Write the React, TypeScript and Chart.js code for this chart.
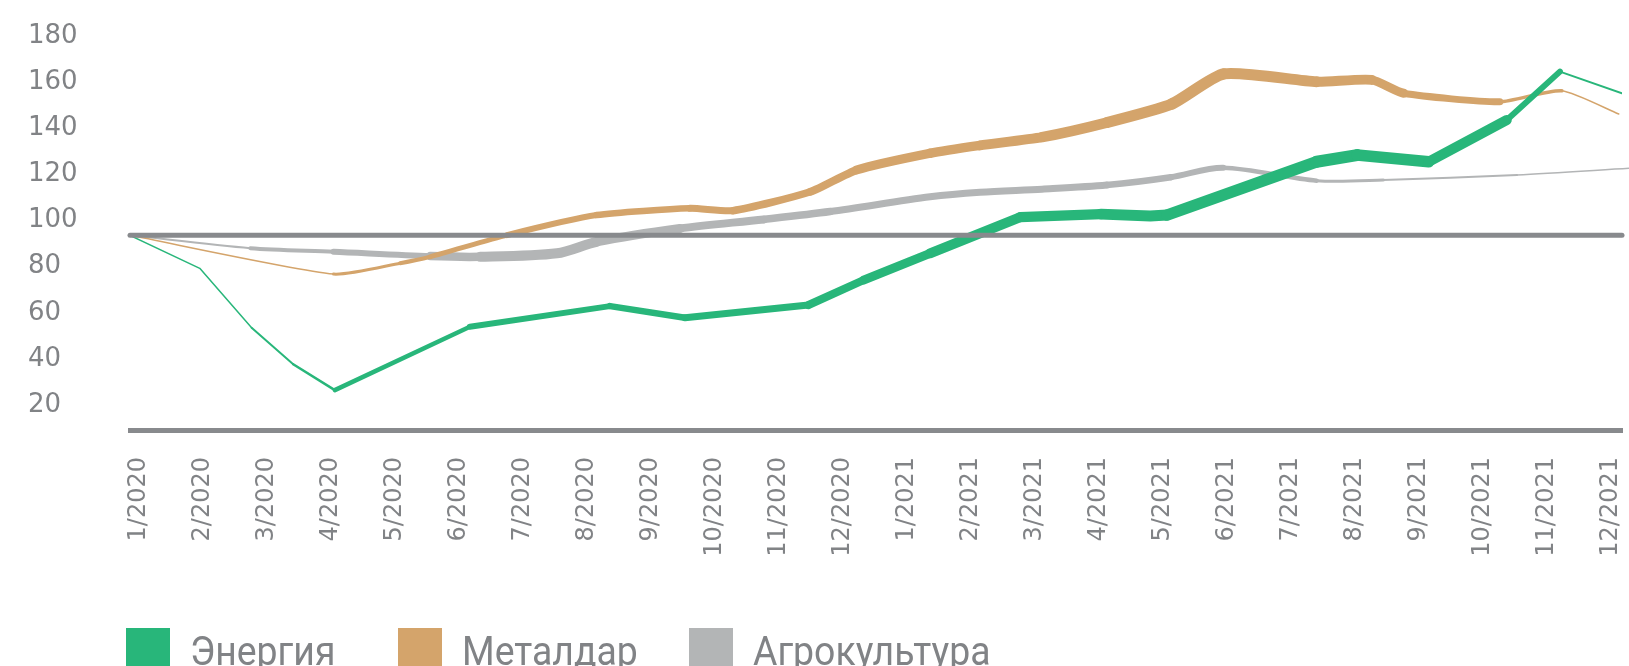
import React, { useEffect, useRef } from 'react';
import { Chart, registerables } from 'chart.js';

Chart.register(...registerables);

// ---- data ----
const xLabels = [
  '1/2020', '2/2020', '3/2020', '4/2020', '5/2020', '6/2020', '7/2020', '8/2020', '9/2020', '10/2020', '11/2020', '12/2020',
  '1/2021', '2/2021', '3/2021', '4/2021', '5/2021', '6/2021', '7/2021', '8/2021', '9/2021', '10/2021', '11/2021', '12/2021',
];
const yTicks = [20, 40, 60, 80, 100, 120, 140, 160, 180];

const baseX = [-0.13, 23.18];
const baseY = [92.7, 92.7];

const energyX = [-0.13, 0.96, 1.77, 2.42, 3.07, 5.18, 7.37, 8.54, 10.47, 11.33, 12.37, 13.78, 15.04, 15.81, 16.07, 18.41, 19.04, 20.16, 21.38, 22.21, 23.18];
const energyY = [92.7, 78.4, 52.6, 36.8, 25.6, 53.1, 62.0, 57.0, 62.5, 73.3, 84.9, 100.6, 101.9, 101.1, 101.5, 124.6, 127.5, 124.6, 142.7, 163.7, 154.3];
const energyW = [1.5, 1.5, 2, 2.5, 4.5, 6, 6.5, 7, 8, 9, 10, 10.5, 11, 11, 11.5, 12, 11.5, 10, 6, 2];

const metalsX = [-0.13, 3.05, 4.09, 4.56, 5.76, 7.16, 8.62, 9.29, 10.5, 11.22, 12.37, 13.15, 14.12, 15.13, 16.15, 16.96, 18.41, 19.27, 19.77, 21.27, 22.24, 23.13];
const metalsY = [92.7, 75.9, 80.6, 83.4, 92.8, 101.5, 104.4, 103.4, 111.6, 121.0, 128.3, 131.7, 135.3, 141.6, 149.7, 162.7, 159.3, 160.1, 154.3, 150.6, 155.4, 145.3];
const metalsW = [1.5, 3, 4, 5, 6, 6.5, 7, 7.5, 8, 9, 9.5, 10, 10.5, 11, 11.5, 11, 10, 9, 7, 3.5, 1.5];

const agroX = [-0.13, 1.75, 3.05, 4.56, 5.34, 6.54, 7.16, 8.46, 9.77, 10.81, 12.37, 13.15, 14.12, 15.13, 16.13, 16.95, 18.41, 19.45, 21.54, 23.29];
const agroY = [92.7, 87.1, 85.6, 83.7, 83.4, 84.9, 89.9, 95.7, 99.6, 103.0, 109.4, 111.4, 112.7, 114.5, 117.9, 122.0, 116.4, 116.7, 118.9, 121.8];
const agroW = [2, 4, 6, 8.5, 10, 10, 9, 8, 7.5, 7, 7, 7, 7, 6.5, 6, 4.5, 3, 2, 1.5];

const seriesNames = ['Энергия', 'Металдар', 'Агрокультура'];

// ---- styles ----
const GREEN = '#28b67a';
const ORANGE = '#d4a46b';
const GRAY = '#b3b5b6';
const REF = '#888a8d';
const TEXT = '#818386';
const seriesColors = [GREEN, ORANGE, GRAY];
const legendLefts = [126, 398, 689];

const toPts = (xs: number[], ys: number[]) => xs.map((x, i) => ({ x, y: ys[i] }));

export default function App() {
  const ref = useRef<HTMLCanvasElement>(null);

  useEffect(() => {
    const lineDs = (label: string, xs: number[], ys: number[], ws: number[], color: string, tension: number, order: number, clip = true) => ({
      label,
      data: toPts(xs, ys),
      borderColor: color,
      backgroundColor: color,
      borderWidth: ws[0],
      borderCapStyle: 'round' as const,
      borderJoinStyle: 'round' as const,
      pointRadius: 0,
      pointHoverRadius: 0,
      tension,
      order,
      clip: clip ? undefined : false,
      segment: { borderWidth: (ctx: any) => ws[ctx.p0DataIndex] },
    });

    const chart = new Chart(ref.current!, {
      type: 'line',
      data: {
        datasets: [
          {
            label: 'base',
            data: toPts(baseX, baseY),
            borderColor: REF,
            borderWidth: 5,
            borderCapStyle: 'round',
            pointRadius: 0,
            pointHoverRadius: 0,
            order: 0,
            clip: false,
          } as any,
          lineDs(seriesNames[0], energyX, energyY, energyW, GREEN, 0, 1),
          lineDs(seriesNames[1], metalsX, metalsY, metalsW, ORANGE, 0.2, 2),
          lineDs(seriesNames[2], agroX, agroY, agroW, GRAY, 0.3, 3, false),
        ],
      },
      options: {
        animation: false,
        responsive: false,
        maintainAspectRatio: false,
        devicePixelRatio: 1,
        events: [],
        layout: { padding: { left: 28, top: 34, right: 7, bottom: 0 } },
        plugins: { legend: { display: false }, tooltip: { enabled: false } },
        scales: {
          x: {
            type: 'linear',
            min: -0.13,
            max: 23.18,
            afterBuildTicks: (axis: any) => {
              axis.ticks = xLabels.map((_, i) => ({ value: i }));
            },
            afterFit: (scale: any) => {
              scale.height = 236;
              scale.paddingLeft = 0;
              scale.paddingRight = 0;
            },
            grid: { display: false, drawTicks: false },
            border: { display: true, color: REF, width: 5 },
            ticks: {
              autoSkip: false,
              minRotation: 90,
              maxRotation: 90,
              padding: 27,
              color: TEXT,
              font: { family: 'DejaVu Sans', size: 24 },
              callback: (v: any) => xLabels[v] ?? '',
            },
          },
          y: {
            type: 'linear',
            min: 8.3,
            max: 180,
            afterBuildTicks: (axis: any) => {
              axis.ticks = yTicks.map((v) => ({ value: v }));
            },
            afterFit: (scale: any) => {
              scale.width = 102;
              scale.paddingTop = 0;
              scale.paddingBottom = 0;
            },
            grid: { display: false, drawTicks: false },
            border: { display: false },
            ticks: {
              crossAlign: 'far',
              padding: 0,
              labelOffset: 2,
              color: TEXT,
              font: { family: 'DejaVu Sans', size: 26 },
            },
          },
        },
      } as any,
    });
    return () => chart.destroy();
  }, []);

  return (
    <div style={{ position: 'fixed', left: 0, top: 0, width: 1629, height: 666, overflow: 'hidden', background: '#fff' }}>
      <canvas ref={ref} width={1629} height={666} style={{ display: 'block', width: 1629, height: 666 }} />
      {seriesNames.map((name, i) => (
        <div
          key={name}
          style={{ position: 'absolute', left: legendLefts[i], top: 628, display: 'flex', alignItems: 'flex-start', whiteSpace: 'nowrap' }}
        >
          <div style={{ width: 44, height: 44, background: seriesColors[i], flex: 'none' }} />
          <div
            style={{
              marginLeft: 20,
              marginTop: 4,
              font: '40px Roboto',
              lineHeight: '40px',
              color: TEXT,
              transform: 'scaleX(0.935)',
              transformOrigin: 'left top',
            }}
          >
            {name}
          </div>
        </div>
      ))}
    </div>
  );
}
